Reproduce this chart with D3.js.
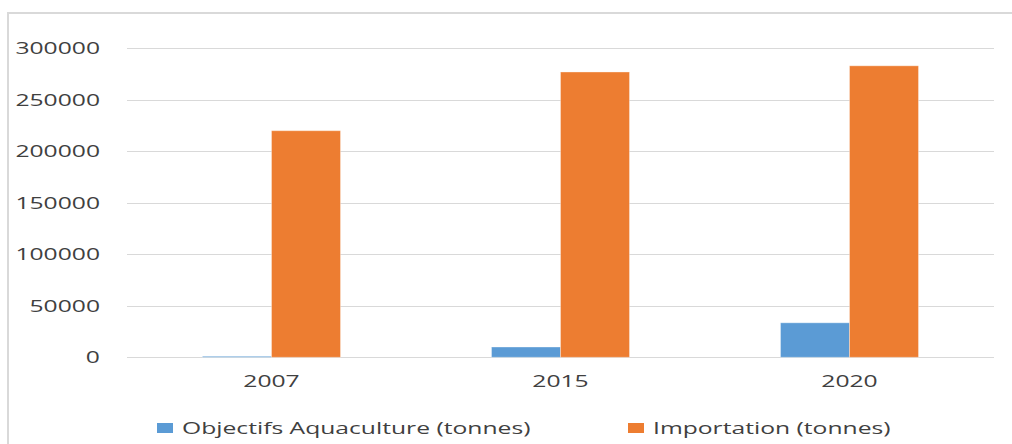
<!DOCTYPE html>
<html><head><meta charset="utf-8">
<script src="https://cdn.jsdelivr.net/npm/d3@7"></script>
<style>body{margin:0;background:#fff}svg{display:block}text{font-family:"Open Sans",sans-serif;fill:#404040}</style>
</head><body>
<svg id="c" width="1012" height="444"></svg>
<script>
const categories = ["2007", "2015", "2020"];
const seriesNames = ["Objectifs Aquaculture (tonnes)", "Importation (tonnes)"];
const aquaculture = [1000, 10000, 33500];
const importation = [220000, 277000, 283000];
const yTicks = [0, 50000, 100000, 150000, 200000, 250000, 300000];
const colors = ["#5B9BD5", "#ED7D31"];

const svg = d3.select("#c");
const stretch = 1.45;
function widen(sel){ sel.each(function(){ const w=this.getComputedTextLength(); d3.select(this).attr("textLength", w*stretch).attr("lengthAdjust","spacingAndGlyphs"); }); }

// chart border
svg.append("rect").attr("x",8).attr("y",13).attr("width",1100).attr("height",500)
  .attr("fill","none").attr("stroke","#d9d9d9").attr("stroke-width",2);

const m = {left:127, right:994, top:48.3, bottom:357.3};
const x = d3.scaleBand().domain(categories).range([m.left, m.right]);
const y = d3.scaleLinear().domain([0, 300000]).range([m.bottom, m.top]);

// gridlines
svg.append("g").selectAll("line").data(yTicks).join("line")
  .attr("x1", m.left).attr("x2", m.right)
  .attr("y1", d=>Math.round(y(d))+0.5).attr("y2", d=>Math.round(y(d))+0.5)
  .attr("stroke","#d9d9d9").attr("stroke-width",1);

// y labels
const yl = svg.append("g").selectAll("text").data(yTicks).join("text")
  .attr("x", 100).attr("y", d=>y(d)).attr("dy","0.35em")
  .attr("text-anchor","end").attr("font-size",17).text(d=>d);
widen(yl);

// bars
const barW = 69;
const data = [];
categories.forEach((c,i)=>{
  data.push({c, s:0, v:aquaculture[i]});
  data.push({c, s:1, v:importation[i]});
});
const xs = d3.scaleBand().domain([0,1]).range([-barW, barW]);
svg.append("g").selectAll("rect").data(data).join("rect")
  .attr("x", d=>x(d.c)+x.bandwidth()/2+xs(d.s))
  .attr("width", xs.bandwidth())
  .attr("y", d=>y(d.v)).attr("height", d=>y(0)-y(d.v))
  .attr("fill", d=>colors[d.s])
  .attr("stroke","#fff").attr("stroke-opacity",0.35).attr("stroke-width",1);

// x labels
const xl = svg.append("g").selectAll("text").data(categories).join("text")
  .attr("x", d=>x(d)+x.bandwidth()/2).attr("y", 381.5).attr("dy","0.35em")
  .attr("text-anchor","middle").attr("font-size",17).text(d=>d);
widen(xl);

// legend
const legX = [157, 628];
const lg = svg.append("g").selectAll("g").data(seriesNames).join("g")
  .attr("transform",(d,i)=>`translate(${legX[i]},0)`);
lg.append("rect").attr("x",0).attr("y",423).attr("width",16).attr("height",10)
  .attr("fill",(d,i)=>colors[i]);
const lt = lg.append("text").attr("x",25).attr("y",428).attr("dy","0.35em")
  .attr("font-size",17).text(d=>d);
widen(lt);
</script>
</body></html>
